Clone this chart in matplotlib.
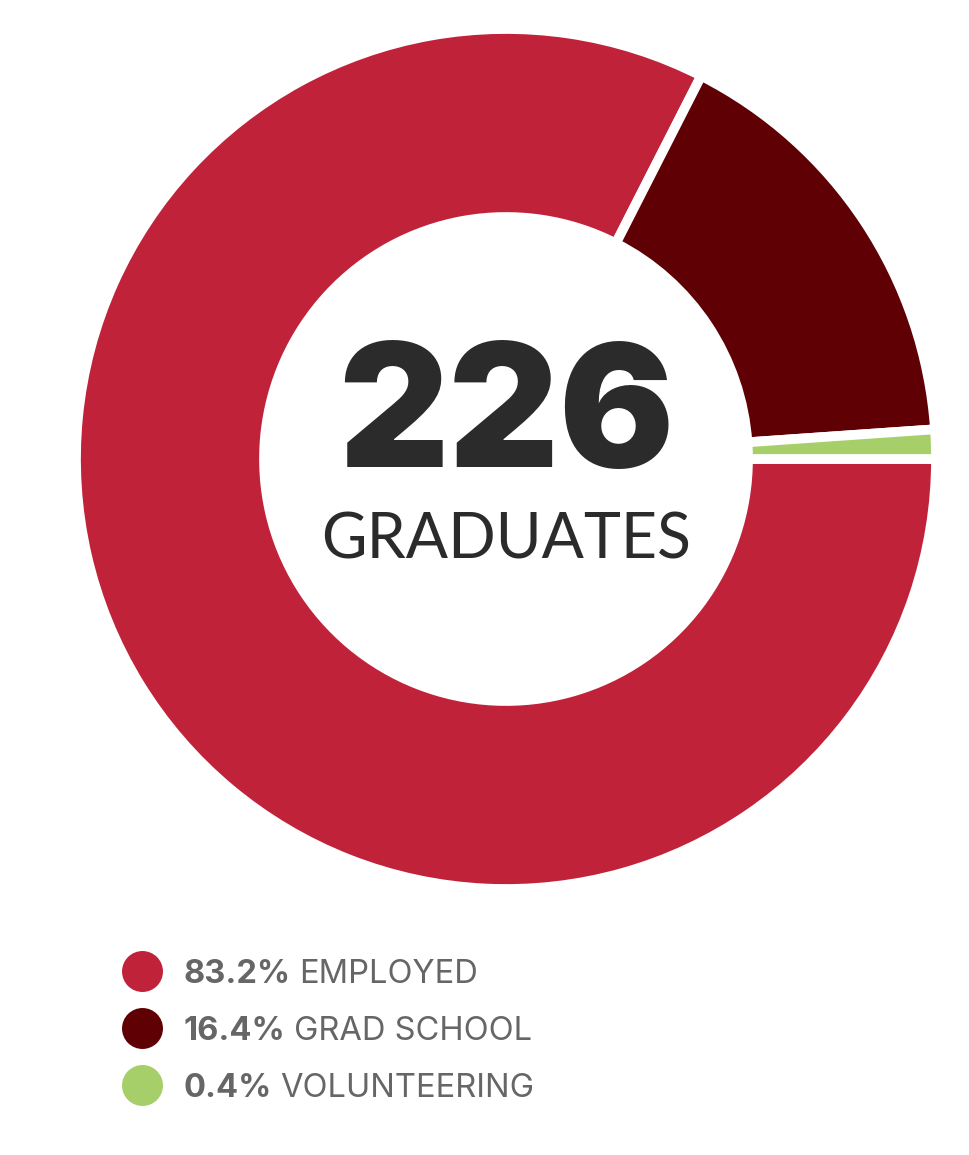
import matplotlib.pyplot as plt

# values
categories = ["EMPLOYED", "GRAD SCHOOL", "VOLUNTEERING"]
pct_labels = ["83.2%", "16.4%", "0.4%"]
arc_shares = [82.5, 16.4, 1.1]   # as drawn (the tiny slice is drawn a bit wider)
colors = ["#C0223A", "#5E0004", "#A6CF6A"]
total = "226"
total_label = "GRADUATES"

W, H = 970, 1155
fig = plt.figure(figsize=(W / 100, H / 100), dpi=100)
ax = fig.add_axes([0, 0, 1, 1])

cx, cy = 506, H - 459

ax.pie(
    arc_shares,
    colors=colors,
    startangle=0,
    counterclock=False,
    center=(cx, cy),
    radius=430,
    frame=True,
    wedgeprops=dict(width=188, edgecolor="white", linewidth=7),
)
ax.set_xlim(0, W)
ax.set_ylim(0, H)
ax.set_aspect("equal")
ax.axis("off")

ax.text(cx, H - 422, total, ha="center", va="center",
        fontsize=123, fontweight="black", family="Inter", color="#2B2B2B")
ax.text(cx, H - 540, total_label, ha="center", va="center",
        fontsize=45, family="Lato", color="#2B2B2B")

# legend
fig.canvas.draw()
renderer = fig.canvas.get_renderer()
for i, (name, pct, col) in enumerate(zip(categories, pct_labels, colors)):
    y = H - (971 + i * 57)
    ax.scatter([142], [y], s=870, color=col, linewidths=0)
    t = ax.text(184, y, pct, ha="left", va="center_baseline", fontsize=23.5,
                fontweight="bold", family="Inter", color="#666666")
    bb = t.get_window_extent(renderer)
    x_end = ax.transData.inverted().transform((bb.x1, bb.y0))[0]
    ax.text(x_end + 8, y, name, ha="left", va="center_baseline", fontsize=23.5,
            family="Inter", color="#666666")

fig.savefig("out.png", dpi=100)
